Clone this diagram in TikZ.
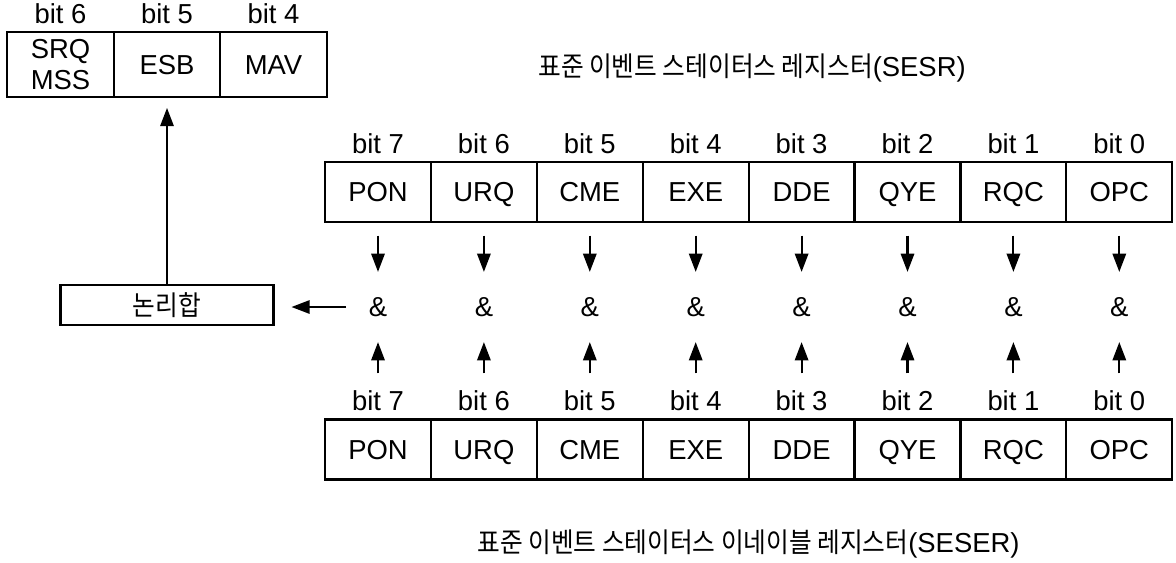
\documentclass[tikz,border=0pt]{standalone}
\usepackage{fontspec}
\setmainfont{Liberation Sans}
\newfontfamily\kr[FakeStretch=0.9]{Noto Sans CJK KR}
\usetikzlibrary{positioning,arrows.meta}

\tikzset{
  regbox/.style={draw, line width=1.5pt, inner sep=0pt},
  cell/.style={regbox, minimum width=2.65cm, minimum height=1.5cm, text height=14pt, text depth=0pt},
  bitlbl/.style={inner sep=0pt},
  amp/.style={inner sep=0pt, minimum height=1.6cm},
  arr/.style={line width=1.5pt, -{Triangle[length=13pt,width=9.5pt]}}
}

\begin{document}
\begin{tikzpicture}[x=0.025cm, y=-0.025cm, font=\fontsize{19.5}{21.5}\selectfont]
    \useasboundingbox (0,0) rectangle (1176,562);

    % 상태 바이트
    \node[regbox, minimum width=2.66cm, minimum height=1.625cm, align=center] (srq) at (60.5,64.5) {SRQ\\MSS};
    \node[cell, minimum width=2.66cm, minimum height=1.625cm] (esb) at (167,64.5) {ESB};
    \node[cell, minimum width=2.66cm, minimum height=1.625cm] (mav) at (273.5,64.5) {MAV};
    \node[bitlbl, above=5pt of srq] (l6) {bit 6};
    \node[bitlbl, above=5pt of esb] (l5) {bit 5};
    \node[bitlbl, above=5pt of mav] (l4) {bit 4};

    % 레지스터 이름
    \node (sesr) at (752,68) {{\kr 표준 이벤트 스테이터스 레지스터}(SESR)};
    \node (seser) at (748.5,544) {{\kr 표준 이벤트 스테이터스 이네이블 레지스터}(SESER)};

    % 논리합
    \node[regbox, minimum width=5.325cm, minimum height=1cm, font=\kr\fontsize{19.5}{21.5}\selectfont] (or) at (167,305) {논리합};

    % SESR, SESER 비트
    \foreach \n [count=\i from 0] in {PON,URQ,CME,EXE,DDE,QYE,RQC,OPC} {
        \pgfmathsetmacro\bx{378+105.9*\i}
        \pgfmathtruncatemacro\b{7-\i}
        \node[cell] (t\i) at (\bx,192) {\n};
        \node[bitlbl, above=5pt of t\i] (tl\i) {bit \b};
        \node[amp] (a\i) at (\bx,307) {\&};
        \node[cell] (b\i) at (\bx,449.5) {\n};
        \node[bitlbl, above=5pt of b\i] (bl\i) {bit \b};
        \draw[arr, shorten <=9pt, shorten >=2pt] (t\i) -- (a\i);
        \draw[arr, shorten <=32pt, shorten >=2pt] (b\i) -- (a\i);
    }

    % 화살표
    \draw[arr, shorten <=16pt, shorten >=12pt] (a0.west) -- (or.east |- a0.west);
    \draw[arr, shorten >=7pt] (or) -- (esb);
\end{tikzpicture}
\end{document}
